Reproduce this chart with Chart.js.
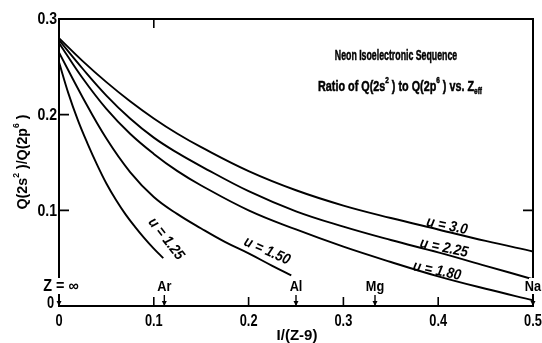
<!DOCTYPE html>
<html>
<head>
<meta charset="utf-8">
<script src="https://cdn.jsdelivr.net/npm/chart.js@4/dist/chart.umd.min.js"></script>
<style>
html,body{margin:0;padding:0;background:#fff;}
#wrap{width:542px;height:343px;}
</style>
</head>
<body>
<div id="wrap"><canvas id="c" width="542" height="343"></canvas></div>
<script>
// ---- data ----
const xMain = [0, 0.025, 0.05, 0.075, 0.1, 0.125, 0.15, 0.2, 0.25, 0.3, 0.35, 0.4, 0.45, 0.5];
const u300 = [0.280, 0.256, 0.234, 0.214, 0.196, 0.180, 0.166, 0.141, 0.121, 0.105, 0.092, 0.080, 0.068, 0.057];
const u225 = [0.278, 0.248, 0.220, 0.196, 0.176, 0.160, 0.146, 0.120, 0.099, 0.083, 0.069, 0.056, 0.042, 0.028];
const u180 = [0.275, 0.238, 0.206, 0.180, 0.159, 0.141, 0.126, 0.100, 0.080, 0.062, 0.046, 0.031, 0.018, 0.006];
const x150 = [0, 0.025, 0.05, 0.075, 0.1, 0.125, 0.15, 0.175, 0.2, 0.225, 0.245];
const u150 = [0.265, 0.218, 0.175, 0.140, 0.114, 0.096, 0.081, 0.067, 0.055, 0.042, 0.032];
const x125 = [0, 0.01, 0.02, 0.03, 0.04, 0.05, 0.06, 0.07, 0.08, 0.09, 0.1, 0.11];
const u125 = [0.255, 0.222, 0.194, 0.170, 0.148, 0.128, 0.111, 0.096, 0.083, 0.071, 0.060, 0.050];
const curveNames = ['u = 3.0', 'u = 2.25', 'u = 1.80', 'u = 1.50', 'u = 1.25'];
const xTicks = [0, 0.1, 0.2, 0.3, 0.4, 0.5];
const xTickLabels = ['0', '0.1', '0.2', '0.3', '0.4', '0.5'];
const yTicks = [0, 0.1, 0.2, 0.3];
const yTickLabels = ['0', '0.1', '0.2', '0.3'];
const elemNames = ['Z = \u221E', 'Ar', 'Al', 'Mg', 'Na'];
const elemX = [0, 1/9, 1/4, 1/3, 1/2];
const titleLine1 = 'Neon Isoelectronic Sequence';
const xTitle = 'I/(Z-9)';

const FONT = '"Liberation Sans", Arial, "DejaVu Sans", sans-serif';

function pts(xs, ys) { return xs.map((x, i) => ({x: x, y: ys[i]})); }

// draw horizontally-condensed text
function txt(ctx, t, x, y, size, sx, align, style, heavy) {
  ctx.save();
  ctx.font = (style || 'bold') + ' ' + size + 'px ' + FONT;
  ctx.textBaseline = 'middle';
  ctx.textAlign = align || 'center';
  ctx.translate(x, y);
  ctx.scale(sx, 1);
  ctx.fillText(t, 0, 0);
  if (heavy) { ctx.lineWidth = heavy; ctx.strokeText(t, 0, 0); }
  ctx.restore();
}
// rich text: segments {t, s: 'sup'|'sub'|undefined}, centred at cx,cy
function drawRich(ctx, segs, size, sx, cx, cy, heavy) {
  ctx.save();
  ctx.translate(cx, cy);
  ctx.scale(sx, 1);
  let w = 0;
  for (const s of segs) {
    ctx.font = 'bold ' + (s.s ? Math.round(size * 0.62) : size) + 'px ' + FONT;
    w += ctx.measureText(s.t).width;
  }
  let x = -w / 2;
  ctx.textBaseline = 'middle';
  ctx.textAlign = 'left';
  for (const s of segs) {
    const sz = s.s ? Math.round(size * 0.62) : size;
    ctx.font = 'bold ' + sz + 'px ' + FONT;
    let dy = 0;
    if (s.s === 'sup') dy = -size * 0.42;
    if (s.s === 'sub') dy = size * 0.3;
    ctx.fillText(s.t, x, dy);
    if (heavy) { ctx.lineWidth = heavy; ctx.strokeText(s.t, x, dy); }
    x += ctx.measureText(s.t).width;
  }
  ctx.restore();
}

const decor = {
  id: 'decor',
  afterDraw(chart) {
    const ctx = chart.ctx;
    const xs = chart.scales.x, ys = chart.scales.y;
    const a = chart.chartArea;
    ctx.save();
    ctx.strokeStyle = '#000';
    ctx.fillStyle = '#000';
    // frame
    ctx.lineWidth = 2;
    ctx.strokeRect(a.left, a.top, a.right - a.left, a.bottom - a.top);
    // ticks inside
    ctx.lineWidth = 1.6;
    ctx.beginPath();
    for (let i = 1; i < xTicks.length - 1; i++) {
      const px = xs.getPixelForValue(xTicks[i]);
      ctx.moveTo(px, a.bottom); ctx.lineTo(px, a.bottom - 9);
    }
    const pTop = xs.getPixelForValue(xTicks[1]);
    ctx.moveTo(pTop, a.top); ctx.lineTo(pTop, a.top + 9);
    for (let i = 1; i < yTicks.length - 1; i++) {
      const py = ys.getPixelForValue(yTicks[i]);
      ctx.moveTo(a.left, py); ctx.lineTo(a.left + 10, py);
    }
    const pR = ys.getPixelForValue(yTicks[1]);
    ctx.moveTo(a.right, pR); ctx.lineTo(a.right - 10, pR);
    ctx.stroke();

    // tick labels
    xTicks.forEach((v, i) => {
      txt(ctx, xTickLabels[i], xs.getPixelForValue(v), a.bottom + 16, 16, 0.8, 'center');
    });
    yTicks.forEach((v, i) => {
      if (i === 0) return;
      txt(ctx, yTickLabels[i], a.left - 2, ys.getPixelForValue(v) + 1, 16, 0.88, 'right');
    });
    txt(ctx, yTickLabels[0], a.left - 5, ys.getPixelForValue(0) - 2, 16, 0.8, 'right');

    // axis titles
    txt(ctx, xTitle, 297, 336, 15, 1.0, 'center');
    ctx.save();
    ctx.translate(23, 162);
    ctx.rotate(-Math.PI / 2);
    drawRich(ctx, [{t: 'Q(2s'}, {t: '2', s: 'sup'}, {t: ' )/Q(2p'}, {t: '6', s: 'sup'}, {t: ' )'}], 15, 0.95, 0, 0);
    ctx.restore();

    // element markers with arrows
    elemX.forEach((v, i) => {
      const px = xs.getPixelForValue(v);
      const ly = a.bottom - 19;
      if (i === 0 || i === elemX.length - 1) {
        // labels sitting on the frame interrupt it
        ctx.save(); ctx.fillStyle = '#fff';
        ctx.fillRect(px - 4, ly - 9, 8, 16);
        ctx.restore();
      }
      if (i === 0) txt(ctx, elemNames[i], px + 2, ly, 16, 0.9, 'center');
      else txt(ctx, elemNames[i], px, ly, 15, 0.85, 'center');
      ctx.lineWidth = 1.4;
      ctx.beginPath();
      ctx.moveTo(px, a.bottom - 11); ctx.lineTo(px, a.bottom - 1);
      ctx.stroke();
      ctx.beginPath();
      ctx.moveTo(px - 2.5, a.bottom - 5); ctx.lineTo(px + 2.5, a.bottom - 5); ctx.lineTo(px, a.bottom);
      ctx.closePath(); ctx.fill();
    });

    // title block
    txt(ctx, titleLine1, 396, 56, 15, 0.585, 'center', 'bold', 0.5);
    drawRich(ctx, [{t: 'Ratio of Q(2s'}, {t: '2', s: 'sup'}, {t: ' ) to Q(2p'}, {t: '6', s: 'sup'}, {t: ' ) vs. Z'}, {t: 'eff', s: 'sub'}], 15, 0.72, 400, 87, 0.5);

    // curve labels
    const labs = [
      [curveNames[0], 447, 226, 12],
      [curveNames[1], 444, 248, 12],
      [curveNames[2], 437, 271, 12],
      [curveNames[3], 267, 251, 24],
      [curveNames[4], 166, 239, 52]
    ];
    for (const [t, x, y, ang] of labs) {
      ctx.save();
      ctx.translate(x, y);
      ctx.rotate(ang * Math.PI / 180);
      txt(ctx, t, 0, 0, 15, 0.88, 'center', 'italic bold');
      ctx.restore();
    }
    ctx.restore();
  }
};

const ds = (label, data) => ({
  label: label, data: data, showLine: true, borderColor: '#000', borderWidth: 1.9,
  pointRadius: 0, fill: false, tension: 0.4
});

new Chart(document.getElementById('c'), {
  type: 'scatter',
  data: {
    datasets: [
      ds(curveNames[0], pts(xMain, u300)),
      ds(curveNames[1], pts(xMain, u225)),
      ds(curveNames[2], pts(xMain, u180)),
      ds(curveNames[3], pts(x150, u150)),
      ds(curveNames[4], pts(x125, u125))
    ]
  },
  options: {
    responsive: false,
    animation: false,
    layout: {padding: {left: 59, right: 9, top: 19, bottom: 37}},
    plugins: {legend: {display: false}, tooltip: {enabled: false}},
    scales: {
      x: {type: 'linear', min: 0, max: 0.5, display: false},
      y: {type: 'linear', min: 0, max: 0.3, display: false}
    }
  },
  plugins: [decor]
});
</script>
</body>
</html>
